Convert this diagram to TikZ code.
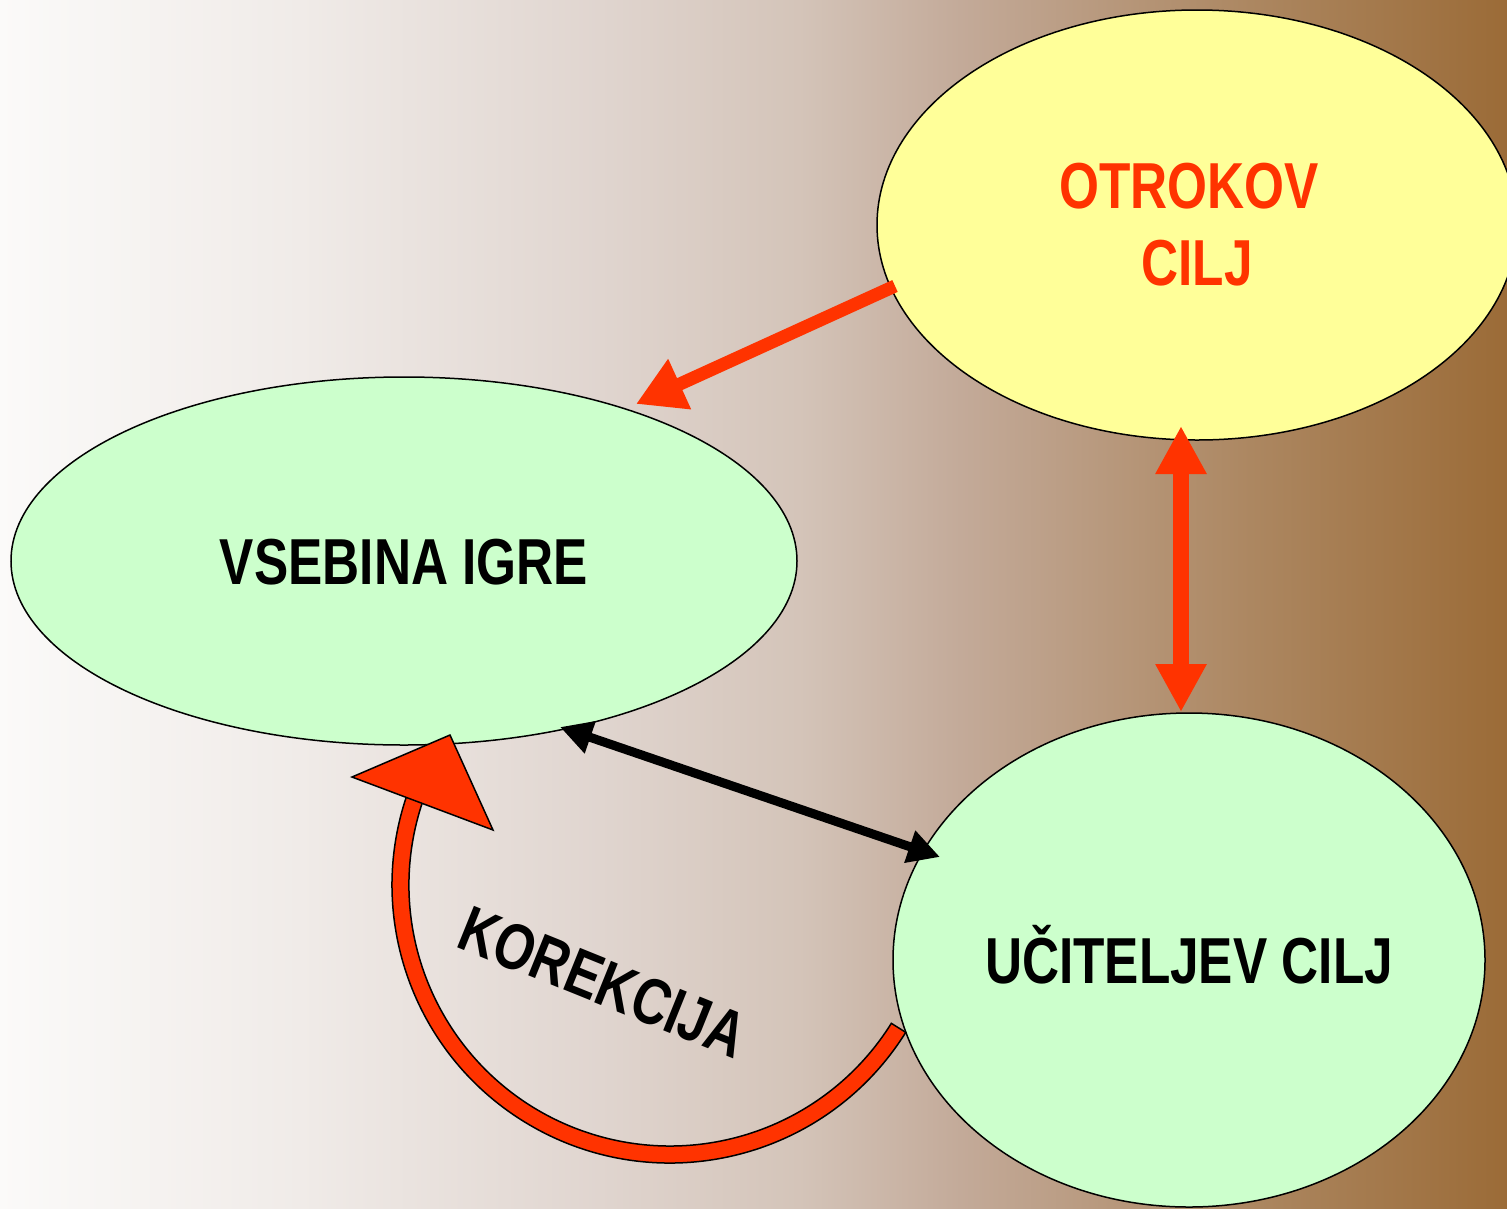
\documentclass[tikz,border=0pt]{standalone}
\usepackage{fontspec}
\newfontfamily\lab[FakeStretch=0.79]{Liberation Sans}
\usetikzlibrary{arrows.meta,shapes.geometric,calc}
\definecolor{myred}{HTML}{FF3300}
\definecolor{ylw}{HTML}{FFFF99}
\definecolor{grn}{HTML}{CCFFCC}
\pgfdeclarehorizontalshading{bgshade}{100bp}{rgb(0bp)=(0.984,0.980,0.976); rgb(25bp)=(0.984,0.980,0.976); rgb(34.95bp)=(0.941,0.922,0.910); rgb(44.9bp)=(0.878,0.835,0.812); rgb(51.5bp)=(0.831,0.769,0.725); rgb(56.85bp)=(0.765,0.667,0.600); rgb(66.5bp)=(0.675,0.529,0.380); rgb(75bp)=(0.608,0.420,0.216); rgb(100bp)=(0.608,0.420,0.216)}
\begin{document}
\begin{tikzpicture}[x=1pt,y=-1pt,
  ell/.style={ellipse, draw=black, line width=1.5pt, inner sep=0pt, font=\lab\bfseries\fontsize{65}{77}\selectfont},
  lbl/.style={font=\lab\bfseries\fontsize{65}{77}\selectfont, inner sep=0pt},
  redarrow/.style={draw=myred, line width=13pt, -{Triangle[length=48pt,width=52pt]}},
  redboth/.style={draw=myred, line width=16pt, {Triangle[length=48pt,width=48pt]}-{Triangle[length=48pt,width=48pt]}},
  blackboth/.style={draw=black, line width=9pt, {Triangle[length=32pt,width=32pt]}-{Triangle[length=32pt,width=32pt]}},
  curvearrow/.style={fill=myred, draw=black, line width=1.5pt, line join=miter}]
\useasboundingbox (0,0) rectangle (1507,1208);
\clip (0,0) rectangle (1507,1208);
\shade[shading=bgshade] (0,0) rectangle (1507,1208);

\node[ell, fill=ylw, text=myred, align=center, minimum width=640pt, minimum height=430pt] (otr) at (1197,225) {OTROKOV\hspace*{16pt}\\CILJ};
\node[ell, fill=grn, minimum width=786pt, minimum height=368pt, text height=46pt, text depth=0pt] (vse) at (404,561) {VSEBINA IGRE};
\node[ell, fill=grn, minimum width=592pt, minimum height=494pt, text height=46pt, text depth=0pt] (uci) at (1189,960) {UČITELJEV CILJ};

\coordinate (a1) at (895,286);
\coordinate (a2) at (636,404);
\draw[redarrow] (a1) -- (a2);

\coordinate (b1) at (1181,426);
\coordinate (b2) at (1181,712);
\draw[redboth] (b1) -- (b2);

\coordinate (c1) at (560,727);
\coordinate (c2) at (940,857);
\draw[blackboth] (c1) -- (c2);

\coordinate (kc) at (670,885);
\filldraw[curvearrow] (kc) ++(32:278) arc[start angle=32, end angle=199, radius=278]
  -- ($(kc)+(199:261)$) arc[start angle=199, end angle=32, radius=261] -- cycle;
\filldraw[curvearrow] (450,735) -- (352,777) -- (493,830) -- cycle;

\node[lbl, rotate=-22] (kor) at (603,982) {KOREKCIJA};
\end{tikzpicture}
\end{document}
